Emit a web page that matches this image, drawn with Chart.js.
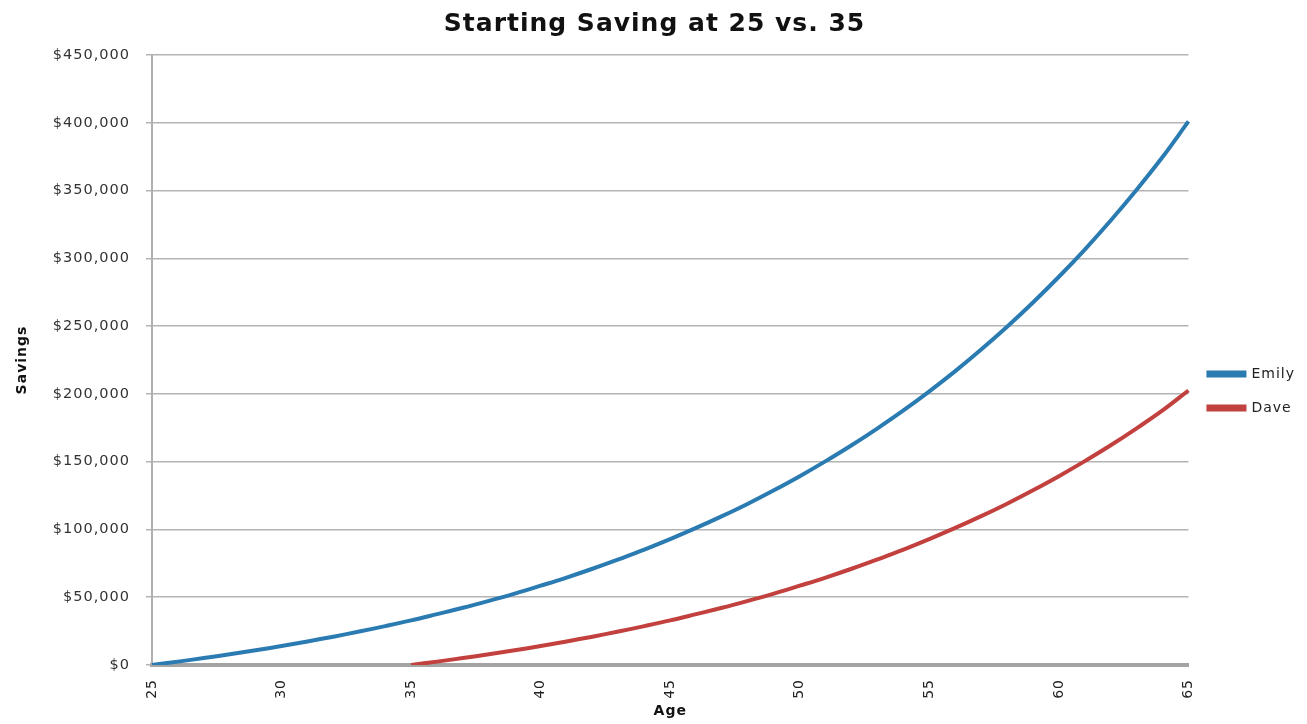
<!DOCTYPE html>
<html>
<head>
<meta charset="utf-8">
<script src="https://cdn.jsdelivr.net/npm/chart.js@4"></script>
<style>
  html, body { margin: 0; padding: 0; background: #fff; }
  #wrap { width: 1307px; height: 724px; }
</style>
</head>
<body>
<div id="wrap"><canvas id="savingsChart"></canvas></div>
<script>
const ages = [25, 26, 27, 28, 29, 30, 31, 32, 33, 34, 35, 36, 37, 38, 39, 40, 41, 42, 43, 44, 45,
              46, 47, 48, 49, 50, 51, 52, 53, 54, 55, 56, 57, 58, 59, 60, 61, 62, 63, 64, 65];

// savings, one value per year of age
const emily = [0, 2500, 5100, 7900, 10900, 14000, 17400, 20900, 24700, 28700, 32900,
               37500, 42200, 47300, 52700, 58500, 64500, 71000, 77900, 85100, 92900,
               101100, 109800, 119000, 128900, 139300, 150400, 162100, 174600, 187800, 201900,
               216800, 232700, 249500, 267400, 286400, 306500, 327900, 350600, 374700, 401000];
const dave = [null, null, null, null, null, null, null, null, null, null, 0,
              2500, 5100, 7900, 10900, 14000, 17400, 20900, 24700, 28700, 32900,
              37500, 42200, 47300, 52700, 58500, 64500, 71000, 77900, 85100, 92900,
              101100, 109800, 119000, 128900, 139300, 150400, 162100, 174600, 187800, 202500];

const yTicks = [0, 50000, 100000, 150000, 200000, 250000, 300000, 350000, 400000, 450000];

const FONT = 'DejaVu Sans';

// the original's text is wide, so space the letters out a little
const letterSpacing = {
    id: 'letterSpacing',
    beforeLayout(chart) { chart.ctx.letterSpacing = '1px'; },
    beforeDraw(chart) { chart.ctx.letterSpacing = '1px'; },
};

const ctx = document.getElementById('savingsChart').getContext('2d');

new Chart(ctx, {
    type: 'line',
    data: {
        labels: ages,
        datasets: [{
            label: 'Emily',
            data: emily,
            borderColor: '#2b7bb3',
            backgroundColor: '#2b7bb3',
            borderWidth: 4,
            pointRadius: 0,
            tension: 0.4,
        }, {
            label: 'Dave',
            data: dave,
            borderColor: '#c2403d',
            backgroundColor: '#c2403d',
            borderWidth: 4,
            pointRadius: 0,
            tension: 0.4,
        }],
    },
    plugins: [letterSpacing],
    options: {
        responsive: true,
        maintainAspectRatio: false,
        animation: false,
        layout: {
            padding: { left: 4, right: 2, top: 0, bottom: 2 },
        },
        plugins: {
            title: {
                display: true,
                text: 'Starting Saving at 25 vs. 35',
                font: { family: FONT, size: 25, weight: 'bold' },
                color: '#111',
                padding: { top: 9, bottom: 16 },
            },
            legend: {
                position: 'right',
                // blank title only pushes the two entries down
                title: { display: true, text: ' ', padding: { top: 43, bottom: 0 }, font: { size: 14 } },
                labels: {
                    boxWidth: 36,
                    boxHeight: 3,
                    padding: 20,
                    color: '#222',
                    font: { family: FONT, size: 14 },
                },
            },
            tooltip: { enabled: false },
        },
        scales: {
            x: {
                type: 'category',
                offset: false,
                afterFit: (axis) => { axis.height = 57; },
                grid: { display: false, drawTicks: false },
                border: { display: true, color: '#a4a4a4', width: 4, dash: [2, 1] },
                ticks: {
                    autoSkip: false,
                    minRotation: 90,
                    maxRotation: 90,
                    padding: 14,
                    color: '#222',
                    font: { family: FONT, size: 14 },
                    callback: (value, index) => (ages[index] % 5 === 0 ? ages[index] : ''),
                },
                title: {
                    display: true,
                    text: 'Age',
                    color: '#111',
                    font: { family: FONT, size: 14, weight: 'bold' },
                    padding: { top: 2, bottom: 2 },
                },
            },
            y: {
                min: 0,
                max: 450000,
                afterBuildTicks: (axis) => { axis.ticks = yTicks.map(v => ({ value: v })); },
                afterFit: (axis) => { axis.width = 148; },
                grid: { color: '#b4b4b4', lineWidth: 1.5, tickLength: 6 },
                border: { color: '#b0b0b0', width: 2 },
                ticks: {
                    color: '#333',
                    padding: 16,
                    font: { family: FONT, size: 14.5 },
                    callback: (value) => '$' + value.toLocaleString('en-US'),
                },
                title: {
                    display: true,
                    text: 'Savings',
                    color: '#111',
                    font: { family: FONT, size: 14, weight: 'bold' },
                    padding: { top: 10, bottom: 8 },
                },
            },
        },
    },
});
</script>
</body>
</html>
